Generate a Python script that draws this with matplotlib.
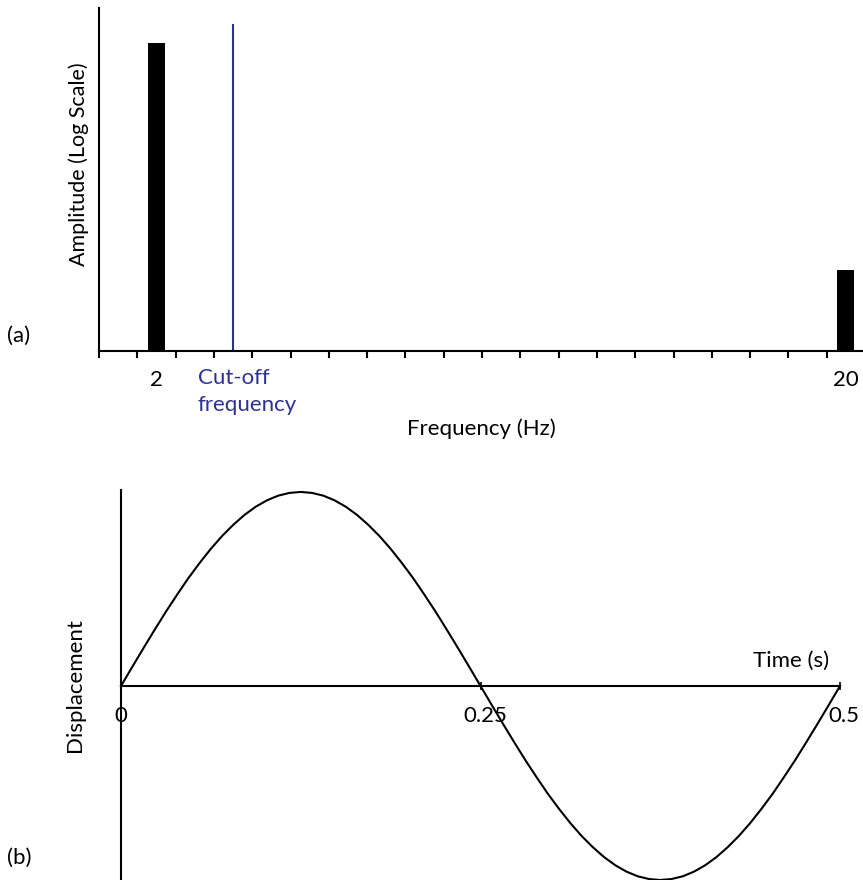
import numpy as np
import matplotlib.pyplot as plt

plt.rcParams['font.family'] = ['Lato', 'DejaVu Sans']
plt.rcParams['font.size'] = 16

# (a) spectrum
freqs = [2, 20]
amplitudes = [0.898, 0.236]
cutoff_freq = 4
cutoff_height = 0.95
freq_tick_labels = ['2', '20']

# (b) displacement trace, sampled every 1/128 s
# first quarter read off the curve, rest follows by symmetry
quarter = [0.0, 0.098, 0.195, 0.290, 0.383, 0.471, 0.556, 0.634, 0.707,
           0.773, 0.831, 0.882, 0.924, 0.957, 0.981, 0.995, 1.0]
half = quarter + quarter[-2::-1]
displacement = half + [-v for v in half[1:]]
time = np.linspace(0, 0.5, len(displacement))
time_ticks = [0.25, 0.5]
time_tick_labels = ['0', '0.25', '0.5']
time_label_x = [0, 0.253, 0.503]

blue = '#2e3192'
W, H = 863, 880

fig = plt.figure(figsize=(W / 100, H / 100), dpi=100)


def px_axes(x0, y0, x1, y1):
    # pixel box (top-left origin) -> axes
    return fig.add_axes([x0 / W, 1 - y1 / H, (x1 - x0) / W, (y1 - y0) / H])


# ---- top panel ----
ax1 = px_axes(99, 8, 863, 351)
ax1.bar(freqs, amplitudes, width=0.44, color='black')
ax1.plot([cutoff_freq, cutoff_freq], [0, cutoff_height], color=blue, lw=1.5)
ax1.set_xlim(0.5, 0.5 + 764 / 38.3)
ax1.set_ylim(0, 1)
for s in ['top', 'right']:
    ax1.spines[s].set_visible(False)
ax1.spines['left'].set_linewidth(1.5)
ax1.spines['bottom'].set_linewidth(1.5)
ax1.set_xticks(freqs)
ax1.set_xticklabels(freq_tick_labels)
ax1.set_xticks(np.arange(0.5, 20, 1), minor=True)
ax1.tick_params(axis='x', which='major', length=0, pad=14)
ax1.tick_params(axis='x', which='minor', length=5, width=1.5, direction='out')
ax1.set_yticks([])
ax1.set_ylabel('Amplitude (Log Scale)', labelpad=7, fontsize=15.5)
ax1.yaxis.label.set_y(0.545)
ax1.set_xlabel('Frequency (Hz)', labelpad=20)
ax1.text(cutoff_freq - 0.92, -0.05, 'Cut-off\nfrequency', color=blue,
         ha='left', va='top', linespacing=1.45)
fig.text(7 / W, 1 - 336 / H, '(a)', ha='left', va='center')

# ---- bottom panel ----
ax2 = px_axes(121, 490, 863, 880)
ax2.plot(time, displacement, color='black', lw=1.5, clip_on=False)
ax2.set_xlim(0, 0.5 * (863 - 121) / (840 - 121))
ax2.set_ylim(-1.0, 1.01)
for s in ['top', 'right']:
    ax2.spines[s].set_visible(False)
ax2.spines['left'].set_position(('data', 0))
ax2.spines['bottom'].set_position(('data', 0))
ax2.spines['bottom'].set_bounds(0, 0.5)
ax2.spines['left'].set_linewidth(1.5)
ax2.spines['bottom'].set_linewidth(1.5)
ax2.set_xticks(time_ticks)
ax2.set_xticklabels([])
ax2.tick_params(axis='x', length=6, width=1.2, direction='inout')
ax2.set_yticks([])
for t, lab in zip(time_label_x, time_tick_labels):
    ax2.text(t, -0.155, lab, ha='center', va='center')
ax2.text(0.466, 0.13, 'Time (s)', ha='center', va='center')
ax2.set_ylabel('Displacement', labelpad=26)
fig.text(7 / W, 1 - 858 / H, '(b)', ha='left', va='center')

fig.savefig('out.png', dpi=100)
